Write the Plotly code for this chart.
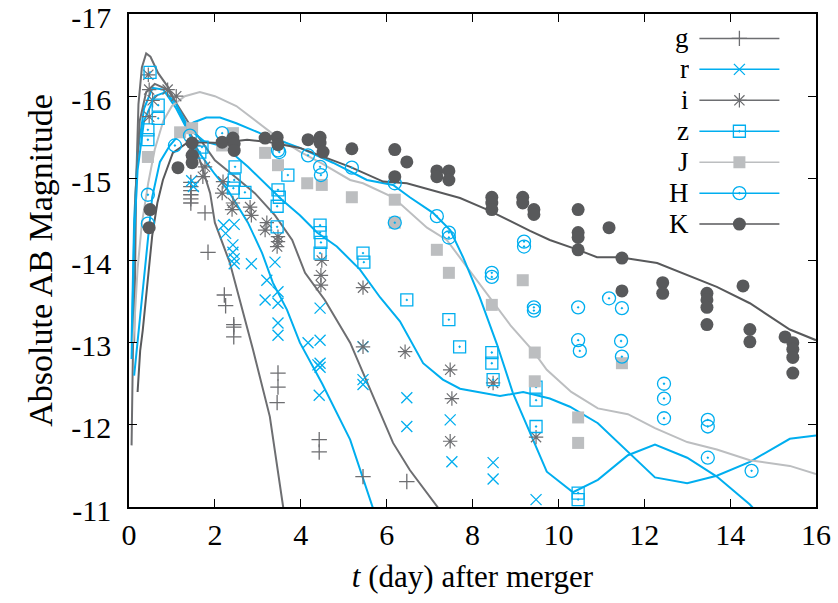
import plotly.graph_objects as go

# band names (legend order)
bands = ["g", "r", "i", "z", "J", "H", "K"]

# ---- model light curves (day, AB mag) ----
g_mod_t = [0.06, 0.08, 0.09, 0.10, 0.12, 0.14, 0.17, 0.22, 0.30, 0.40, 0.50, 0.68, 0.91, 1.15, 1.47, 1.70, 1.89, 2.00, 2.35, 2.89, 3.28, 3.59, 3.70]
g_mod_m = [-11.75, -12.6, -12.4, -13.2, -13.0, -14.0, -15.0, -15.9, -16.35, -16.52, -16.48, -16.28, -16.11, -15.85, -15.5, -15.14, -14.82, -14.46, -13.97, -12.91, -12.1, -11.0, -10.6]

r_mod_t = [0.06, 0.12, 0.20, 0.35, 0.55, 0.80, 1.10, 1.40, 1.65, 2.00, 2.30, 2.77, 3.10, 3.35, 3.68, 3.98, 4.50, 5.15, 5.66, 5.80]
r_mod_m = [-13.0, -14.5, -15.3, -15.85, -16.1, -16.08, -15.85, -15.55, -15.3, -15.05, -14.86, -14.46, -14.09, -13.73, -13.4, -13.0, -12.5, -11.82, -11.0, -10.8]

i_mod_t = [0.08, 0.15, 0.25, 0.40, 0.60, 0.90, 1.42, 2.00, 2.47, 2.93, 3.40, 3.80, 4.10, 4.56, 5.15, 5.61, 6.15, 6.54, 7.20, 7.40]
i_mod_m = [-13.0, -14.8, -15.7, -16.05, -16.15, -16.08, -15.65, -15.22, -15.02, -14.82, -14.55, -14.25, -13.85, -13.52, -13.0, -12.43, -11.78, -11.45, -11.0, -10.85]

z_mod_t = [0.06, 0.12, 0.20, 0.35, 0.60, 0.85, 1.10, 1.40, 1.75, 2.24, 2.77, 3.17, 3.56, 3.98, 4.38, 4.84, 5.38, 5.85, 6.31, 6.85, 7.31, 7.71, 8.64, 9.18, 9.80, 10.27, 10.92, 12.25, 13.00, 13.69, 14.46, 15.39, 16.00]
z_mod_m = [-12.8, -14.3, -15.1, -15.7, -16.0, -16.05, -15.9, -15.6, -15.45, -15.38, -15.14, -14.94, -14.74, -14.55, -14.34, -14.17, -13.89, -13.55, -13.26, -12.75, -12.55, -12.44, -12.35, -12.4, -12.32, -12.22, -12.02, -11.36, -11.29, -11.38, -11.55, -11.83, -11.87]

J_mod_t = [0.10, 0.20, 0.30, 0.45, 0.60, 0.80, 1.00, 1.30, 1.65, 2.00, 2.50, 3.00, 3.50, 4.00, 4.50, 5.15, 5.45, 6.15, 6.94, 7.40, 7.87, 8.34, 8.90, 9.41, 9.73, 10.30, 10.92, 11.62, 12.25, 13.00, 13.69, 14.46, 15.39, 16.00]
J_mod_m = [-13.0, -13.9, -14.45, -14.95, -15.35, -15.7, -15.88, -16.0, -16.05, -16.0, -15.88, -15.68, -15.48, -15.32, -15.18, -14.98, -14.94, -14.77, -14.4, -14.25, -13.92, -13.6, -13.2, -12.9, -12.67, -12.4, -12.2, -12.13, -11.96, -11.79, -11.7, -11.57, -11.5, -11.4]

H_mod_t = [0.12, 0.30, 0.37, 0.54, 0.72, 0.95, 1.20, 1.50, 1.80, 2.12, 2.50, 3.05, 3.98, 4.75, 5.54, 6.15, 6.54, 7.08, 7.48, 7.78, 8.17, 8.57, 8.94, 9.38, 9.73, 10.34, 10.92, 11.62, 12.25, 13.00, 13.69, 14.46, 14.60]
H_mod_m = [-12.6, -13.5, -13.89, -14.77, -15.2, -15.4, -15.55, -15.68, -15.74, -15.74, -15.67, -15.55, -15.37, -15.19, -14.98, -14.92, -14.77, -14.58, -14.37, -14.04, -13.55, -12.98, -12.39, -11.85, -11.43, -11.18, -11.33, -11.63, -11.76, -11.6, -11.37, -11.03, -10.95]

K_mod_t = [0.20, 0.26, 0.32, 0.37, 0.45, 0.54, 0.66, 0.79, 1.02, 1.35, 1.65, 2.12, 2.75, 3.28, 3.98, 4.75, 5.15, 5.92, 6.47, 7.71, 8.34, 9.34, 9.80, 10.46, 10.90, 11.43, 12.30, 13.69, 14.46, 15.39, 16.00]
K_mod_m = [-12.4, -12.9, -13.15, -13.4, -13.88, -14.3, -14.7, -14.98, -15.31, -15.43, -15.44, -15.43, -15.47, -15.44, -15.37, -15.22, -15.14, -14.96, -14.94, -14.76, -14.62, -14.36, -14.25, -14.13, -14.04, -14.04, -13.97, -13.68, -13.48, -13.16, -13.03]

# ---- observed photometry (day, AB mag) ----
g_obs_t = [1.44, 1.44, 1.44, 1.44, 1.44, 1.44, 1.77, 1.84, 2.22, 2.25, 2.44, 2.44, 2.44, 3.47, 3.47, 3.45, 4.43, 4.43, 5.45, 6.47]
g_obs_m = [-14.95, -14.9, -14.85, -14.8, -14.75, -14.7, -14.58, -14.1, -13.58, -13.45, -13.22, -13.19, -13.07, -12.63, -12.46, -12.27, -11.82, -11.67, -11.37, -11.31]

r_obs_t = [1.46, 1.50, 2.20, 2.45, 2.25, 2.42, 2.42, 2.45, 2.45, 2.85, 3.40, 3.21, 3.17, 3.47, 3.47, 3.47, 3.47, 4.17, 4.40, 4.43, 4.45, 4.45, 4.45, 4.45, 5.45, 5.45, 5.45, 6.47, 6.47, 7.48, 7.52, 8.48, 8.48, 9.48]
r_obs_m = [-14.97, -14.9, -14.43, -14.44, -14.33, -14.19, -14.1, -13.96, -14.02, -13.96, -13.98, -13.76, -13.52, -13.62, -13.48, -13.24, -13.09, -13.0, -12.73, -12.36, -13.42, -13.03, -12.75, -12.7, -12.95, -12.55, -12.49, -12.33, -11.98, -12.06, -11.55, -11.54, -11.34, -11.09]

i_obs_t = [0.45, 0.47, 0.47, 0.55, 0.90, 1.10, 1.50, 1.77, 1.72, 2.19, 2.17, 2.42, 2.40, 2.82, 2.85, 3.21, 3.17, 3.47, 3.47, 3.45, 4.49, 4.47, 4.47, 5.45, 5.45, 6.43, 7.48, 7.52, 7.48, 8.48, 9.48]
i_obs_m = [-16.26, -16.08, -15.75, -15.95, -16.08, -16.0, -15.4, -15.14, -15.02, -14.96, -14.82, -14.7, -14.62, -14.65, -14.55, -14.46, -14.37, -14.29, -14.23, -14.17, -14.0, -13.82, -13.7, -13.67, -12.95, -12.89, -12.67, -12.32, -11.8, -12.51, -11.85]

z_obs_t = [0.49, 0.68, 0.68, 0.44, 0.44, 1.70, 1.65, 2.47, 2.45, 2.43, 2.70, 3.47, 3.50, 3.70, 3.45, 3.45, 4.45, 4.45, 4.47, 4.45, 5.45, 5.47, 6.47, 7.45, 7.70, 8.45, 8.45, 8.48, 9.48, 9.48, 9.48, 10.46, 10.46]
z_obs_m = [-16.29, -15.89, -15.73, -15.59, -15.47, -15.38, -15.32, -15.14, -14.98, -14.88, -14.83, -14.86, -14.77, -15.04, -14.66, -14.41, -14.43, -14.34, -14.22, -14.09, -14.09, -13.98, -13.52, -13.28, -12.95, -12.88, -12.75, -12.55, -12.46, -12.3, -11.98, -11.17, -11.09]

J_obs_t = [0.44, 1.19, 1.47, 2.17, 2.42, 3.17, 3.47, 4.15, 4.49, 5.19, 6.19, 6.19, 7.17, 7.45, 8.45, 9.17, 9.45, 9.45, 10.46, 10.46, 11.48]
J_obs_m = [-15.26, -15.56, -15.61, -15.4, -15.55, -15.31, -15.16, -14.94, -14.92, -14.77, -14.74, -14.46, -14.13, -13.85, -13.46, -13.76, -12.88, -12.53, -12.09, -11.78, -12.75]

H_obs_t = [0.44, 0.44, 1.07, 1.42, 2.17, 3.47, 3.50, 4.17, 4.45, 4.47, 5.19, 6.19, 6.19, 7.17, 7.45, 7.45, 8.45, 8.45, 9.20, 9.20, 9.43, 9.43, 10.46, 11.18, 11.48, 10.46, 10.50, 11.46, 11.48, 12.46, 12.46, 12.46, 13.48, 13.48, 13.48, 14.50]
H_obs_m = [-14.8, -14.45, -15.4, -15.52, -15.55, -15.34, -15.32, -15.28, -15.14, -15.04, -15.13, -14.94, -14.46, -14.54, -14.34, -14.28, -13.85, -13.8, -14.23, -14.17, -13.43, -13.39, -13.43, -13.54, -13.42, -13.03, -12.9, -13.02, -12.83, -12.5, -12.32, -12.08, -12.06, -11.98, -11.6, -11.44]

K_obs_t = [0.49, 0.47, 1.14, 1.47, 1.47, 1.47, 2.17, 2.42, 2.45, 2.45, 3.17, 3.45, 3.47, 4.17, 4.45, 4.45, 4.52, 5.19, 6.19, 6.47, 6.19, 7.17, 7.17, 7.45, 7.45, 8.45, 8.45, 8.45, 9.17, 9.17, 9.43, 9.43, 10.46, 10.46, 10.46, 10.46, 11.18, 11.48, 11.48, 12.43, 12.43, 13.46, 13.46, 13.46, 13.46, 14.30, 14.46, 14.46, 15.28, 15.46, 15.46, 15.46, 15.46]
K_obs_m = [-14.62, -14.4, -15.13, -15.43, -15.28, -15.19, -15.44, -15.49, -15.42, -15.34, -15.49, -15.5, -15.41, -15.47, -15.5, -15.43, -15.32, -15.36, -15.35, -15.2, -15.02, -15.09, -15.02, -15.09, -14.98, -14.77, -14.7, -14.62, -14.77, -14.7, -14.62, -14.56, -14.62, -14.34, -14.28, -14.13, -14.4, -14.03, -13.63, -13.73, -13.6, -13.6, -13.52, -13.43, -13.22, -13.69, -13.16, -13.01, -13.07, -13.0, -12.92, -12.82, -12.63]

# axis ticks
x_ticks = [0, 2, 4, 6, 8, 10, 12, 14, 16]
y_ticks = [-17, -16, -15, -14, -13, -12, -11]
y_ticktext = ["-17", "-16", "-15", "-14", "-13", "-12", "-11"]

CYAN = "#00aeef"
GREY = "#6d6e71"
DARK = "#58595b"
LIGHT = "#bcbec0"

models = {
    "g": (g_mod_t, g_mod_m), "r": (r_mod_t, r_mod_m), "i": (i_mod_t, i_mod_m),
    "z": (z_mod_t, z_mod_m), "J": (J_mod_t, J_mod_m), "H": (H_mod_t, H_mod_m),
    "K": (K_mod_t, K_mod_m),
}
obs = {
    "g": (g_obs_t, g_obs_m), "r": (r_obs_t, r_obs_m), "i": (i_obs_t, i_obs_m),
    "z": (z_obs_t, z_obs_m), "J": (J_obs_t, J_obs_m), "H": (H_obs_t, H_obs_m),
    "K": (K_obs_t, K_obs_m),
}
style = {
    "g": dict(color=GREY, symbol="cross-thin", size=11, lw=1.3),
    "r": dict(color=CYAN, symbol="x-thin", size=11, lw=1.3),
    "i": dict(color=GREY, symbol="asterisk", size=12, lw=1.2),
    "z": dict(color=CYAN, symbol="square-open-dot", size=12, lw=1.3),
    "J": dict(color=LIGHT, symbol="square", size=12, lw=0),
    "H": dict(color=CYAN, symbol="circle-open-dot", size=13, lw=1.3),
    "K": dict(color=DARK, symbol="circle", size=13, lw=0),
}

fig = go.Figure()

# model curves
for b in bands:
    t, m = models[b]
    fig.add_trace(go.Scatter(x=t, y=m, mode="lines", showlegend=False,
                             line=dict(color=style[b]["color"], width=2), hoverinfo="skip"))

# observed points
for b in bands:
    t, m = obs[b]
    s = style[b]
    fig.add_trace(go.Scatter(
        x=t, y=m, mode="markers", showlegend=False, name=b,
        marker=dict(symbol=s["symbol"], size=s["size"], color=s["color"],
                    line=dict(color=s["color"], width=s["lw"])),
    ))

# legend-only entries (line + marker)
for b in bands:
    s = style[b]
    fig.add_trace(go.Scatter(
        x=[None], y=[None], mode="lines+markers", name=" ", showlegend=True,
        line=dict(color=s["color"], width=1.5),
        marker=dict(symbol=s["symbol"], size=s["size"], color=s["color"],
                    line=dict(color=s["color"], width=s["lw"])),
    ))

# legend labels, right-aligned before the symbols
for k, b in enumerate(bands):
    fig.add_annotation(text=b, xref="paper", yref="paper", x=0.818, y=0.9513 - k * 0.0629,
                       xanchor="right", yanchor="middle", showarrow=False, height=30,
                       font=dict(size=27, color="black"))

axis_common = dict(showline=True, linecolor="black", linewidth=1.5, mirror="ticks",
                   ticks="inside", ticklen=8, tickwidth=1.2, tickcolor="black",
                   showgrid=False, zeroline=False, automargin=False,
                   ticklabeloverflow="allow",
                   tickfont=dict(size=30, color="black"))

fig.update_layout(
    width=838, height=603,
    margin=dict(l=129, r=22, t=14, b=96),
    paper_bgcolor="white", plot_bgcolor="white",
    font=dict(family="Liberation Serif, Times New Roman, serif", size=30, color="black"),
    xaxis=dict(range=[0, 16], tickvals=x_ticks, ticklabelstandoff=0,
               title=dict(text="<i>t</i> (day) after merger", standoff=16, font=dict(size=31)),
               **axis_common),
    yaxis=dict(range=[-11, -17], tickvals=y_ticks, ticktext=y_ticktext, ticklabelstandoff=10,
               ticklabelshift=-3,
               title=dict(text="Absolute AB Magnitude", standoff=8, font=dict(size=34)),
               **axis_common),
    legend=dict(x=0.823, y=0.992, xanchor="left", yanchor="top", itemwidth=80,
                bgcolor="rgba(0,0,0,0)", font=dict(size=21.5), tracegroupgap=0,
                itemclick=False),
    showlegend=True,
)

# drop the default body margin so the figure sits at the page origin
fig.write_html("out.html", config={"displayModeBar": False},
               post_script="document.body.style.margin='0';")
